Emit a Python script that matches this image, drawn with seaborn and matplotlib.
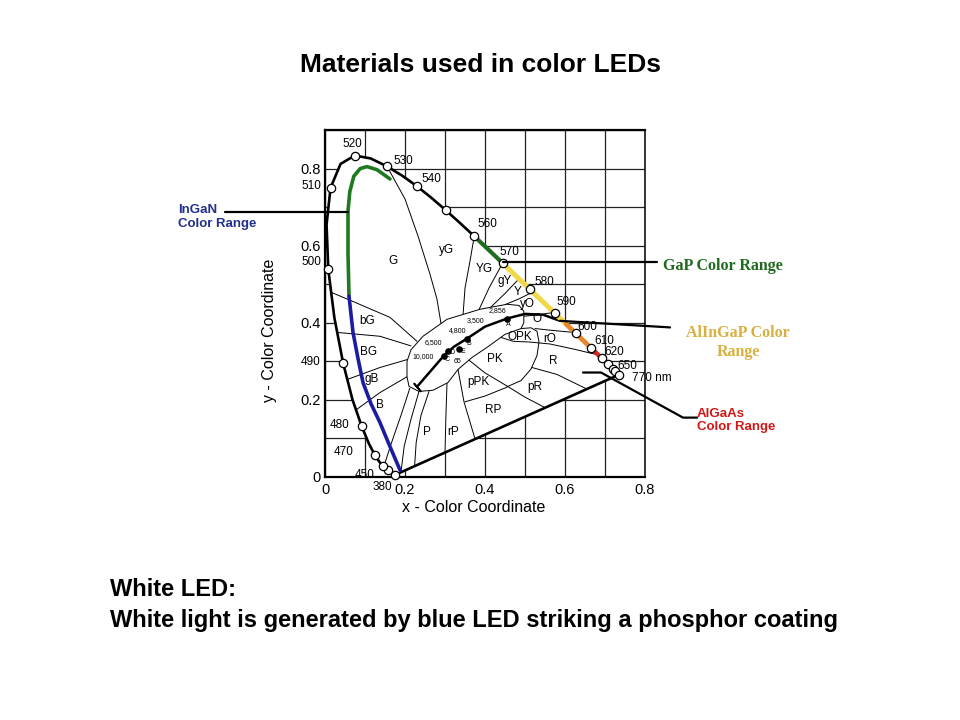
import matplotlib
matplotlib.use("Agg")
import matplotlib.pyplot as plt
import seaborn as sns
import numpy as np
import pandas as pd

# ---------------- data ----------------
# CIE 1931 spectral locus
locus_nm = [380, 440, 450, 460, 465, 470, 475, 480, 485, 490, 495, 500, 505, 510, 515,
            520, 525, 530, 535, 540, 545, 550, 555, 560, 565, 570, 575, 580, 585, 590,
            595, 600, 605, 610, 620, 630, 640, 650, 700]
locus_x = [0.1741, 0.1644, 0.1566, 0.1440, 0.1355, 0.1241, 0.1096, 0.0913, 0.0687, 0.0454,
           0.0235, 0.0082, 0.0039, 0.0139, 0.0389, 0.0743, 0.1142, 0.1547, 0.1929, 0.2296,
           0.2658, 0.3016, 0.3373, 0.3731, 0.4087, 0.4441, 0.4788, 0.5125, 0.5448, 0.5752,
           0.6029, 0.6270, 0.6482, 0.6658, 0.6915, 0.7079, 0.7190, 0.7260, 0.7347]
locus_y = [0.0050, 0.0109, 0.0177, 0.0297, 0.0399, 0.0578, 0.0868, 0.1327, 0.2007, 0.2950,
           0.4127, 0.5384, 0.6548, 0.7502, 0.8120, 0.8338, 0.8262, 0.8059, 0.7816, 0.7543,
           0.7243, 0.6923, 0.6589, 0.6245, 0.5896, 0.5547, 0.5202, 0.4866, 0.4544, 0.4242,
           0.3965, 0.3725, 0.3514, 0.3340, 0.3083, 0.2920, 0.2809, 0.2740, 0.2653]
marker_nm = [380, 450, 460, 470, 480, 490, 500, 510, 520, 530, 540, 550, 560, 570, 580,
             590, 600, 610, 620, 630, 640, 650, 700]

# wavelength labels
wl_text = ['520', '530', '540', '560', '570', '580', '590', '600', '610', '620', '650', '770 nm',
           '510', '500', '490', '480', '470', '450', '380']
wl_x = [0.0675, 0.195, 0.265, 0.405, 0.46, 0.5475, 0.6025, 0.655, 0.6975, 0.7225, 0.755, 0.8175,
        -0.035, -0.035, -0.035, 0.0375, 0.0475, 0.10, 0.1425]
wl_y = [0.8646, 0.82, 0.773, 0.656, 0.583, 0.505, 0.453, 0.388, 0.352, 0.323, 0.289, 0.258,
        0.755, 0.557, 0.2995, 0.135, 0.065, 0.005, -0.026]

# LED colour ranges (by wavelength on the locus)
gap_nm = [560, 565, 570]
alingap_nm = [570, 575, 580, 585, 590, 595]
orange_nm = [595, 600, 605, 610]
algaas_nm = [610, 620, 630, 640, 650]

# InGaN range (green + blue)
ingan_green_x = [0.1625, 0.13, 0.105, 0.088, 0.072, 0.062, 0.0575, 0.0575, 0.06]
ingan_green_y = [0.773, 0.797, 0.805, 0.80, 0.78, 0.74, 0.69, 0.58, 0.469]
ingan_blue_x = [0.06, 0.07, 0.082, 0.095, 0.115, 0.1375, 0.162, 0.1875]
ingan_blue_y = [0.469, 0.375, 0.31, 0.245, 0.19, 0.141, 0.08, 0.018]

# central white region
white_x = [0.205, 0.205, 0.215, 0.245, 0.305, 0.3875, 0.455, 0.485, 0.497, 0.497, 0.49,
           0.45, 0.4075, 0.3675, 0.3325, 0.3075, 0.27, 0.235, 0.21, 0.205]
white_y = [0.26, 0.30, 0.33, 0.365, 0.409, 0.435, 0.448, 0.445, 0.43, 0.40, 0.385,
           0.37, 0.338, 0.31, 0.279, 0.245, 0.225, 0.222, 0.235, 0.26]

# region boundaries
b_G_yG = ([0.155, 0.20, 0.2325, 0.2625, 0.28, 0.29], [0.806, 0.721, 0.625, 0.526, 0.461, 0.398])
b_yG_YG = ([0.3731, 0.3625, 0.35, 0.345], [0.6245, 0.56, 0.49, 0.419])
b_YG_gY = ([0.4441, 0.41, 0.385], [0.5547, 0.49, 0.434])
b_gY_Y = ([0.485, 0.45, 0.415], [0.514, 0.476, 0.441])
b_Y_yO = ([0.52, 0.485, 0.45], [0.48, 0.462, 0.447])
b_yO_O = ([0.572, 0.53, 0.485], [0.427, 0.42, 0.416])
b_O_rO = ([0.525, 0.57, 0.622], [0.385, 0.38, 0.375])
b_OPK = ([0.49, 0.515, 0.53, 0.535, 0.53, 0.515, 0.49, 0.455],
         [0.385, 0.387, 0.378, 0.35, 0.315, 0.28, 0.25, 0.234])
b_rO_R = ([0.44, 0.47, 0.5125, 0.5625, 0.625, 0.685], [0.362, 0.352, 0.35, 0.345, 0.331, 0.316])
b_PK_pPK = ([0.36, 0.40, 0.455, 0.50, 0.55], [0.303, 0.27, 0.236, 0.207, 0.18])
b_pPK_RP = ([0.35, 0.40, 0.455], [0.195, 0.21, 0.233])
b_rP_RP = ([0.3325, 0.3475, 0.375], [0.279, 0.195, 0.099])
b_R_pR = ([0.5175, 0.58, 0.655], [0.284, 0.266, 0.228])
b_P_rP = ([0.305, 0.302, 0.30], [0.243, 0.15, 0.06])
b_P3 = ([0.26, 0.24, 0.228, 0.224], [0.222, 0.16, 0.09, 0.028])
b_P2 = ([0.235, 0.215, 0.198, 0.19], [0.222, 0.15, 0.08, 0.013])
b_P1 = ([0.212, 0.19, 0.165, 0.148], [0.23, 0.16, 0.085, 0.03])
b_G_bG = ([0.0154, 0.075, 0.1625, 0.23], [0.479, 0.453, 0.414, 0.352])
b_bG_BG = ([0.0305, 0.1375, 0.215], [0.375, 0.365, 0.34])
b_BG_gB = ([0.0558, 0.1375, 0.207], [0.253, 0.284, 0.305])
b_gB_B = ([0.0776, 0.1375, 0.205], [0.174, 0.219, 0.26])
boundaries = [b_G_yG, b_yG_YG, b_YG_gY, b_gY_Y, b_Y_yO, b_yO_O, b_O_rO, b_OPK, b_rO_R,
              b_PK_pPK, b_pPK_RP, b_rP_RP, b_R_pR, b_P_rP, b_P3, b_P2, b_P1,
              b_G_bG, b_bG_BG, b_BG_gB, b_gB_B]

# region names
region_text = ['G', 'yG', 'YG', 'gY', 'Y', 'yO', 'O', 'rO', 'OPK', 'PK', 'R', 'pR', 'pPK',
               'RP', 'P', 'rP', 'B', 'gB', 'BG', 'bG']
region_x = [0.17, 0.305, 0.3975, 0.45, 0.4825, 0.505, 0.53, 0.5625, 0.4875, 0.425, 0.57,
            0.525, 0.3825, 0.42, 0.255, 0.32, 0.1375, 0.1175, 0.11, 0.105]
region_y = [0.56, 0.59, 0.539, 0.508, 0.479, 0.448, 0.409, 0.359, 0.362, 0.305, 0.30,
            0.234, 0.247, 0.174, 0.117, 0.117, 0.187, 0.255, 0.325, 0.404]

# Planckian locus and illuminants
planck_x = [0.23, 0.27, 0.2975, 0.3225, 0.355, 0.40, 0.455, 0.50, 0.545, 0.5875]
planck_y = [0.234, 0.282, 0.315, 0.338, 0.359, 0.39, 0.411, 0.423, 0.421, 0.405]
illum_x = [0.455, 0.355, 0.335, 0.3075, 0.2975]
illum_y = [0.411, 0.359, 0.333, 0.326, 0.315]
temp_text = ['2,856', '3,500', '4,800', '6,500', '10,000', 'A', 'B', 'E', 'C', 'D', '65']
temp_x = [0.43, 0.375, 0.3325, 0.27, 0.245, 0.4575, 0.36, 0.345, 0.305, 0.318, 0.33]
temp_y = [0.432, 0.406, 0.38, 0.35, 0.313, 0.396, 0.346, 0.325, 0.305, 0.322, 0.300]

# pointer lines
ingan_ptr = ([-0.25, 0.0575], [0.6875, 0.6875])
gap_ptr = ([0.445, 0.83], [0.557, 0.557])
alingap_ptr = ([0.5875, 0.8625], [0.405, 0.388])
algaas_ptr = ([0.645, 0.69, 0.895, 0.93], [0.271, 0.271, 0.154, 0.154])

ticks_x = [0, 0.1, 0.2, 0.3, 0.4, 0.5, 0.6, 0.7, 0.8]
ticks_y = [0, 0.1, 0.2, 0.3, 0.4, 0.5, 0.6, 0.7, 0.8, 0.9]
tick_lab_x = ['0', '', '0.2', '', '0.4', '', '0.6', '', '0.8']
tick_lab_y = ['0', '', '0.2', '', '0.4', '', '0.6', '', '0.8', '']

# ---------------- drawing ----------------
sns.set_theme(style="white")
plt.rcParams['font.family'] = ['Liberation Sans', 'DejaVu Sans']
plt.rcParams['text.color'] = 'black'
plt.rcParams['axes.labelcolor'] = 'black'
plt.rcParams['xtick.color'] = 'black'
plt.rcParams['ytick.color'] = 'black'

fig = plt.figure(figsize=(9.6, 7.2), dpi=100)
ax = fig.add_axes([325 / 960, (720 - 477) / 720, 320 / 960, 347 / 720])
ax.set_xlim(0, 0.8)
ax.set_ylim(0, 0.9)
ax.set_axisbelow(True)
ax.grid(True, color='#222222', lw=0.9)
ax.set_xticks(ticks_x)
ax.set_xticklabels(tick_lab_x)
ax.set_yticks(ticks_y)
ax.set_yticklabels(tick_lab_y)
ax.tick_params(axis='both', length=0, labelsize=10.5, colors='black')
ax.tick_params(axis='x', pad=4)
ax.tick_params(axis='y', pad=3)
for s in ax.spines.values():
    s.set_visible(True)
    s.set_color('black')
    s.set_linewidth(1.6)
ax.spines['right'].set_linewidth(1.1)

loc = pd.DataFrame({'nm': locus_nm, 'x': locus_x, 'y': locus_y}).set_index('nm')

# white interior of the horseshoe (hides grid)
ax.fill(locus_x + [locus_x[0]], locus_y + [locus_y[0]], color='white', zorder=1, lw=0)

# region boundaries
for bx, by in boundaries:
    ax.plot(bx, by, color='black', lw=0.7, zorder=2)
ax.fill(white_x, white_y, facecolor='white', edgecolor='black', lw=0.7, zorder=2.1)

# spectral locus + purple line
sns.lineplot(x=locus_x + [locus_x[0]], y=locus_y + [locus_y[0]], sort=False, estimator=None,
             color='black', lw=1.9, ax=ax, zorder=3)

# Planckian locus
sns.lineplot(x=planck_x, y=planck_y, sort=False, estimator=None, color='black', lw=1.8,
             ax=ax, zorder=3)
ax.plot([planck_x[0]], [planck_y[0]], marker=(2, 2, 40), ms=8, mew=1.3, color='black', zorder=3)
ax.scatter(illum_x, illum_y, s=14, color='black', zorder=4)
for t, tx, ty in zip(temp_text, temp_x, temp_y):
    ax.text(tx, ty, t, fontsize=5, ha='center', va='center', zorder=4)

for t, tx, ty in zip(region_text, region_x, region_y):
    ax.text(tx, ty, t, fontsize=8.5, ha='center', va='center', zorder=4)

# LED ranges
def seg(nms, color, lw):
    d = loc.loc[nms]
    sns.lineplot(x=list(d['x']), y=list(d['y']), sort=False, estimator=None, color=color,
                 lw=lw, ax=ax, zorder=5)

seg(gap_nm, '#1f6e1f', 3.0)
seg(alingap_nm, '#f0d848', 3.6)
seg(orange_nm, '#e8862a', 3.4)
seg(algaas_nm, '#dd2020', 3.2)
sns.lineplot(x=ingan_green_x, y=ingan_green_y, sort=False, estimator=None, color='#1f7a1f',
             lw=2.6, ax=ax, zorder=5)
sns.lineplot(x=ingan_blue_x, y=ingan_blue_y, sort=False, estimator=None, color='#1c1ca0',
             lw=2.6, ax=ax, zorder=5)

# wavelength circles
mk = loc.loc[marker_nm]
sns.scatterplot(x=list(mk['x']), y=list(mk['y']), s=36, facecolor='white', edgecolor='black',
                linewidth=0.9, ax=ax, zorder=6, clip_on=False)

for t, tx, ty in zip(wl_text, wl_x, wl_y):
    ax.text(tx, ty, t, fontsize=8.5, ha='center', va='center', zorder=7)

# pointer lines
for px, py in [ingan_ptr, gap_ptr, alingap_ptr, algaas_ptr]:
    ax.plot(px, py, color='black', lw=1.6, zorder=7, clip_on=False)

ax.text(-0.3675, 0.674, 'InGaN\nColor Range', color='#23308c', fontsize=9.5, fontweight='bold',
        ha='left', va='center', linespacing=1.15)
ax.text(0.845, 0.547, 'GaP Color Range', color='#1f6a1f', fontsize=11.5, fontweight='bold',
        family=['Liberation Serif'], ha='left', va='center')
ax.text(1.0325, 0.349, 'AlInGaP Color\nRange', color='#d9b040', fontsize=11.5, fontweight='bold',
        family=['Liberation Serif'], ha='center', va='center', linespacing=1.3)
ax.text(0.93, 0.146, 'AlGaAs\nColor Range', color='#d01818', fontsize=9.5, fontweight='bold',
        ha='left', va='center', linespacing=1.15)

ax.set_xlabel('x - Color Coordinate', fontsize=11.5, color='black')
ax.xaxis.set_label_coords(0.466, -0.066)
ax.set_ylabel('y - Color Coordinate', fontsize=11.5, color='black')
ax.yaxis.set_label_coords(-0.150, 0.424)

fig.text(0.5, 1 - 65 / 720, 'Materials used in color LEDs', ha='center', va='center',
         fontsize=19, fontweight='bold', color='black')
fig.text(110 / 960, 1 - 590 / 720, 'White LED:', ha='left', va='center', fontsize=17,
         fontweight='bold', color='black')
fig.text(110 / 960, 1 - 621 / 720, 'White light is generated by blue LED striking a phosphor coating',
         ha='left', va='center', fontsize=17, fontweight='bold', color='black')

fig.savefig('out.png', dpi=100)
